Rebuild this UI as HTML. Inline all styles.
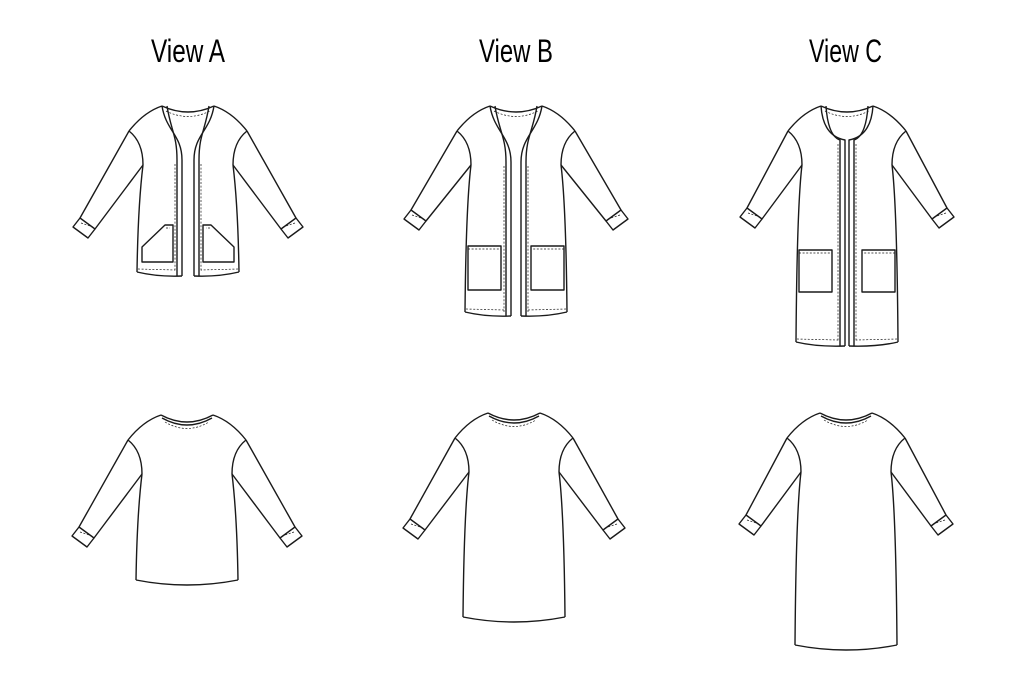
<!DOCTYPE html>
<html><head><meta charset="utf-8">
<style>html,body{margin:0;padding:0;background:#fff;}svg{display:block}</style>
</head><body>
<svg id="s" width="1024" height="683" viewBox="0 0 1024 683" xmlns="http://www.w3.org/2000/svg">
<g font-family="'Liberation Sans Narrow','Liberation Sans',sans-serif" font-size="32" fill="#000">
<text x="151" y="62" textLength="74" lengthAdjust="spacingAndGlyphs">View A</text>
<text x="479" y="62" textLength="74" lengthAdjust="spacingAndGlyphs">View B</text>
<text x="809" y="62" textLength="73" lengthAdjust="spacingAndGlyphs">View C</text>
</g>
<g id="g" fill="none" stroke="#1a1a1a" stroke-width="1.4" stroke-linejoin="round"></g>
</svg>
<script>
var g=document.getElementById('g');var out='';
function P(d,dash){out+='<path d="'+d+'"'+(dash?' stroke-width="0.7" stroke-dasharray="2 1.6"':'')+'/>';}
function side(cx,ny,H,sg,sl,isFront){
 function X(dx){return cx+sg*dx;}
 var N=[X(-26),ny],S=[X(-59),ny+25],A=[X(-45),ny+59];
 var E1=[X(-108+sl[0]),ny+112+sl[1]],L=[X(-115+sl[0]),ny+121+sl[1]],B=[X(-100+sl[0]),ny+132+sl[1]],E2=[X(-93+sl[0]),ny+123+sl[1]];
 P('M'+N+' Q'+X(-44)+','+(ny+6)+' '+S);
 P('M'+S+' L'+E1);
 P('M'+E1+' L'+L+' L'+B+' L'+E2+' Z');
 P('M'+(E1[0]+sg*1)+','+(E1[1]+5)+' L'+(E2[0]-sg*2)+','+(E2[1]-2),true);
 P('M'+E2+' L'+A);
 P('M'+S+' Q'+X(-45)+','+(ny+36)+' '+A);
 P('M'+A+' Q'+X(-50)+','+(ny+100)+' '+X(-51)+','+H);
}
function garment(cx,ny,H,sl,front){
 side(cx,ny,H,-1,sl,front);side(cx,ny,H,1,sl,front);
 if(!front){
  P('M'+(cx-26)+','+ny+' Q'+cx+','+(ny+14)+' '+(cx+26)+','+ny);
  P('M'+(cx-25)+','+(ny+3)+' Q'+cx+','+(ny+17)+' '+(cx+25)+','+(ny+3));
  P('M'+(cx-22)+','+(ny+7)+' Q'+cx+','+(ny+20)+' '+(cx+22)+','+(ny+7),true);
  P('M'+(cx-51)+','+H+' Q'+cx+','+(H+10)+' '+(cx+51)+','+H);
 }
}
function front(cx,ny,H,sl,gap,vy,pock,round){
 garment(cx,ny,H,sl,true);
 P('M'+(cx-26)+','+ny+' Q'+cx+','+(ny+12)+' '+(cx+26)+','+ny);
 P('M'+(cx-22)+','+(ny+5)+' Q'+cx+','+(ny+16)+' '+(cx+22)+','+(ny+5),true);
 [-1,1].forEach(function(s){
  function X(dx){return cx+s*dx;}
  var bw=5;
  for(var k=0;k<2;k++){
   var o=k*bw;
   var ex=gap+ (k?bw:0);
   var d='M'+X(-26+o)+','+ny+(round?' Q'+X(-24+o)+','+(vy-4)+' '+X(-ex)+','+vy:' C'+X(-22+o)+','+(ny+25)+' '+X(-ex)+','+(vy-25)+' '+X(-ex)+','+vy)+' L'+X(-ex)+','+(H+4);
   P(d);
  }
  P('M'+X(-(gap+bw+2))+','+(vy+4)+' L'+X(-(gap+bw+2))+','+(H),true);
  P('M'+X(-51)+','+H+' Q'+X(-30)+','+(H+5)+' '+X(-gap)+','+(H+4));
  P('M'+X(-50)+','+(H-3)+' L'+X(-(gap+bw+2))+','+(H-2),true);
  if(pock=='slant'){
   var x0=X(-46),x1=X(-15),xm=X(-23);
   P('M'+x0+','+(ny+141)+' L'+xm+','+(ny+119)+' L'+x1+','+(ny+119)+' L'+x1+','+(ny+156)+' L'+x0+','+(ny+156)+' Z');
   P('M'+(xm+s*1)+','+(ny+122)+' L'+(x1-s*3)+','+(ny+122),true);
  } else {
   var px0=X(-48),px1=X(-15),py0=pock[0],py1=pock[1];
   P('M'+px0+','+py0+' L'+px1+','+py0+' L'+px1+','+py1+' L'+px0+','+py1+' Z');
   P('M'+px0+','+(py0+3)+' L'+px1+','+(py0+3),true);
  }
 });
}
front(188,106,272,[0,0],6,160,'slant',false);
front(516,106,312,[3,-8],5,162,[246,290],false);
front(847,106,342,[8,-10],2,140,[250,292],true);
garment(187,415,580,[0,0],false);
garment(514,413,617,[4,-6],false);
garment(846,413,645,[8,-10],false);
g.innerHTML=out;
</script>
</body></html>
